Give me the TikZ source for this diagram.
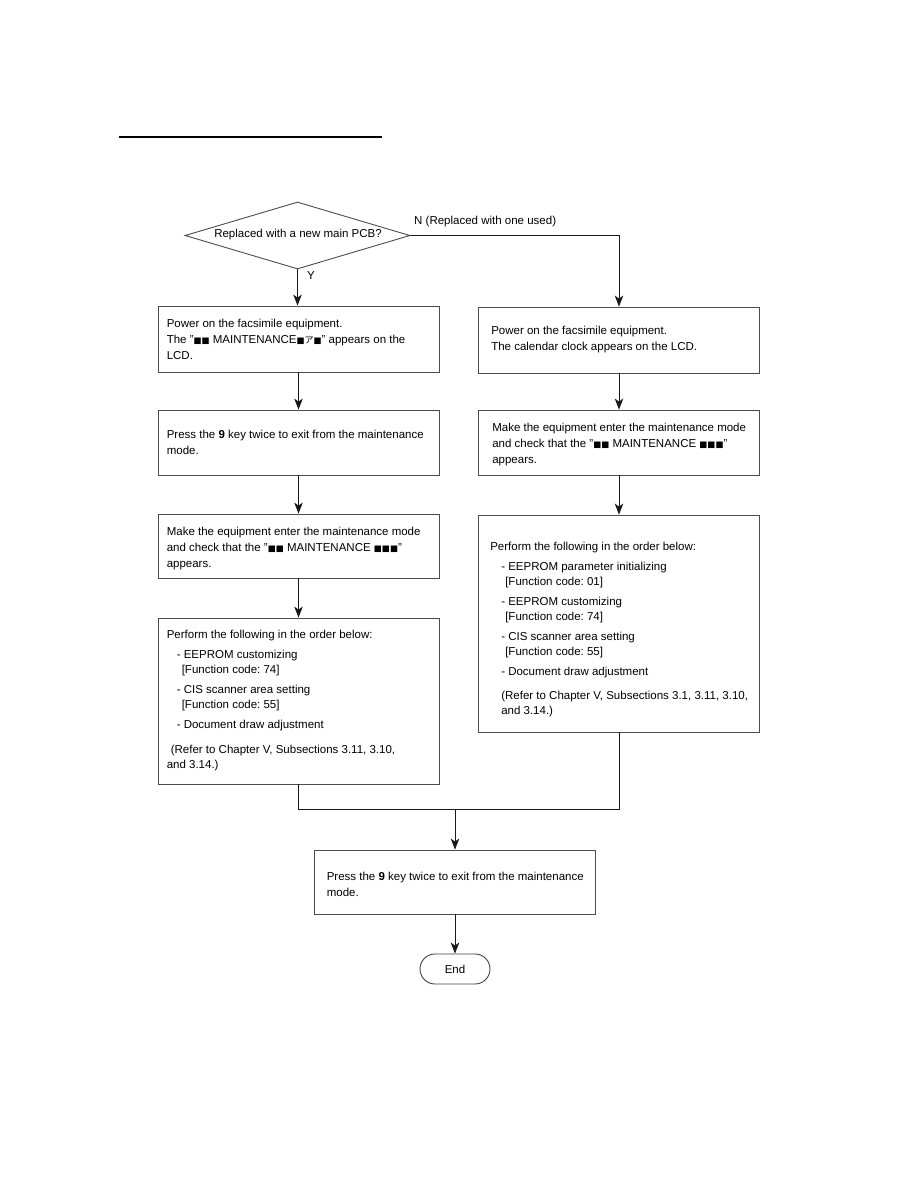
\documentclass[tikz,border=0pt]{standalone}
\usepackage{fontspec}
\setmainfont{Liberation Sans}
\newfontfamily\cjkfont{Noto Sans CJK JP}
\newfontfamily\symfont{DejaVu Sans}
\usetikzlibrary{shapes.geometric,arrows.meta,calc}
\newcommand{\blk}{{\symfont\fontsize{8.5}{8.5}\selectfont ■}}
\newcommand{\kana}{{\cjkfont\fontsize{9}{9}\selectfont ア}}
\newcommand{\qt}{\char34\relax}
\frenchspacing
\tikzset{
  fc/.style={draw=black!70, line width=0.85pt, minimum width=281pt, inner sep=0pt},
  txt/.style={anchor=west, align=left, inner sep=0pt, font=\fontsize{11.5}{16}\selectfont},
  ltxt/.style={txt, font=\fontsize{11.5}{15}\selectfont},
  lbl/.style={inner sep=0pt, font=\fontsize{11.5}{14}\selectfont},
  conn/.style={draw=black!90, line width=0.95pt},
  arr/.style={conn, -{Stealth[length=11pt,width=8.5pt,inset=3pt]}}
}
\begin{document}
\begin{tikzpicture}[x=1pt,y=-1pt]
\fill[white] (0,0) rectangle (918,1188);
\useasboundingbox (0,0) rectangle (918,1188);

% heading underline
\coordinate (ul1) at (119,137);
\coordinate (ul2) at (382,137);
\draw[line width=1.2pt] (ul1) -- (ul2);

% decision
\node[draw=black!70, line width=0.9pt, diamond, minimum width=225pt, minimum height=67pt, inner sep=0pt] (dec) at (297.5,235.5) {};
\node[lbl] (dect) at (298,235) {Replaced with a new main PCB?};
\node[lbl, anchor=west] (nlab) at (414,222) {N (Replaced with one used)};
\node[lbl] (ylab) at (311,276) {Y};

% left column
\node[fc, minimum height=66pt] (l1) at (298.5,339) {};
\node[txt] (l1t) at ([xshift=9pt]l1.west) {Power on the facsimile equipment.\\The \qt\blk\blk{} MAINTENANCE\blk\kana\blk\qt{} appears on the\\LCD.};

\node[fc, minimum height=65pt] (l2) at (298.5,442.5) {};
\node[txt] (l2t) at ([xshift=9pt]l2.west) {Press the \textbf{9} key twice to exit from the maintenance\\mode.};

\node[fc, minimum height=64pt] (l3) at (298.5,546) {};
\node[txt] (l3t) at ([xshift=9pt,yshift=-3pt]l3.west) {Make the equipment enter the maintenance mode\\and check that the \qt\blk\blk{} MAINTENANCE \blk\blk\blk\qt\\appears.};

\node[fc, minimum height=166pt] (l4) at (298.5,701) {};
\node[ltxt] (l4t) at ([xshift=9pt]l4.west) {Perform the following in the order below:\\[5pt]
\hspace*{10pt}- EEPROM customizing\\
\hspace*{15pt}[Function code: 74]\\[5pt]
\hspace*{10pt}- CIS scanner area setting\\
\hspace*{15pt}[Function code: 55]\\[5pt]
\hspace*{10pt}- Document draw adjustment\\[10pt]
\hspace*{4pt}(Refer to Chapter V, Subsections 3.11, 3.10,\\
and 3.14.)};

% right column
\node[fc, minimum height=66pt] (r1) at (619,340) {};
\node[txt] (r1t) at ([xshift=13pt]r1.west) {Power on the facsimile equipment.\\The calendar clock appears on the LCD.};

\node[fc, minimum height=65pt] (r2) at (619,442.5) {};
\node[txt] (r2t) at ([xshift=14pt,yshift=-2pt]r2.west) {Make the equipment enter the maintenance mode\\and check that the \qt\blk\blk{} MAINTENANCE \blk\blk\blk\qt\\appears.};

\node[fc, minimum height=217pt] (r3) at (619,623.5) {};
\node[ltxt] (r3t) at ([xshift=12pt,yshift=-6.5pt]r3.west) {Perform the following in the order below:\\[5pt]
\hspace*{11pt}- EEPROM parameter initializing\\
\hspace*{15pt}[Function code: 01]\\[5pt]
\hspace*{11pt}- EEPROM customizing\\
\hspace*{15pt}[Function code: 74]\\[5pt]
\hspace*{11pt}- CIS scanner area setting\\
\hspace*{15pt}[Function code: 55]\\[5pt]
\hspace*{11pt}- Document draw adjustment\\[9pt]
\hspace*{11pt}(Refer to Chapter V, Subsections 3.1, 3.11, 3.10,\\
\hspace*{11pt}and 3.14.)};

% bottom
\node[fc, minimum height=64pt] (bot) at (454.5,882) {};
\node[txt] (bott) at ([xshift=13pt,yshift=-2pt]bot.west) {Press the \textbf{9} key twice to exit from the maintenance\\mode.};

\node[draw=black!75, line width=0.9pt, rounded corners=15pt, minimum width=70pt, minimum height=30pt, inner sep=0pt, font=\fontsize{11.5}{14}\selectfont] (endn) at (455,969) {End};

% connectors
\draw[arr] (dec.south) -- (dec.south |- l1.north);
\draw[arr] (dec.east) -| (r1.north);
\draw[arr] (l1.south) -- (l2.north);
\draw[arr] (l2.south) -- (l3.north);
\draw[arr] (l3.south) -- (l4.north);
\draw[arr] (r1.south) -- (r2.north);
\draw[arr] (r2.south) -- (r3.north);
\coordinate (mrg) at (455,809);
\draw[conn] (l4.south) -- (l4.south |- mrg) -| (r3.south);
\draw[arr] (mrg) -- (mrg |- bot.north);
\draw[arr] (endn.north |- bot.south) -- (endn.north);
\end{tikzpicture}
\end{document}
